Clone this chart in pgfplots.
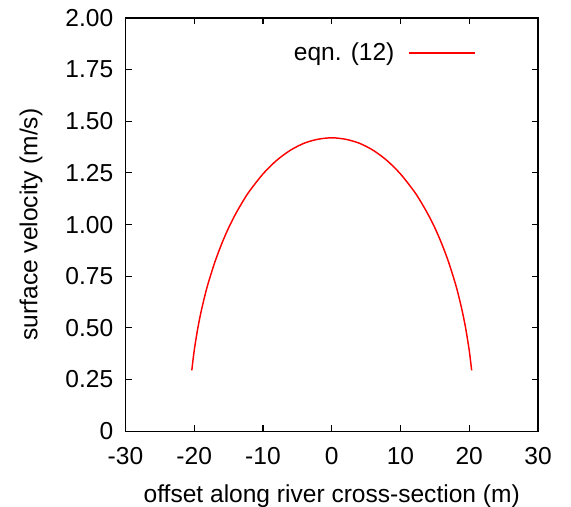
\documentclass[border=0pt]{standalone}
\usepackage{fontspec}
\setmainfont{Liberation Sans}
\usepackage{pgfplots}
\pgfplotsset{compat=1.18}

\begin{document}
\begin{tikzpicture}
\fontsize{13.5}{16}\selectfont
\begin{axis}[
    name=ax,
    scale only axis,
    width=226.9pt, height=227.2pt,
    xmin=-30, xmax=30,
    ymin=0, ymax=2,
    xtick={-30,-20,-10,0,10,20,30},
    xticklabels={-30,-20,-10,0,10,20,30},
    ytick={0,0.25,0.5,0.75,1,1.25,1.5,1.75,2},
    yticklabels={0,0.25,0.50,0.75,1.00,1.25,1.50,1.75,2.00},
    tick align=inside,
    major tick length=3.5pt,
    axis line style={line width=0.6pt},
    every tick/.style={black, line width=0.6pt},
    tick label style={font=\fontsize{13.5}{16}\selectfont},
    yticklabel style={xshift=-2pt},
    xticklabel style={yshift=-4.5pt},
    label style={font=\fontsize{13.5}{16}\selectfont},
    xlabel={offset along river cross-section (m)},
    ylabel={surface velocity (m/s)},
    xlabel style={yshift=-1.5pt},
    ylabel style={yshift=3.5pt},
    legend plot pos=right,
    legend style={draw=none, fill=none, at={(0.849,0.915)}, anchor=east, inner sep=0pt,
        font=\fontsize{13.5}{16}\selectfont},
    legend image code/.code={\path (0pt,0pt); \draw[#1] (5.7pt,0pt) -- (41.7pt,0pt);},
]
\addplot[red, line width=0.8pt, smooth] coordinates {
    (-20.35, 0.294) (-20, 0.390) (-19.5, 0.494) (-19, 0.578) (-18.5, 0.649)
    (-18, 0.712) (-17, 0.818) (-16, 0.907) (-15, 0.984) (-14, 1.050)
    (-13, 1.108) (-12, 1.160) (-10, 1.245) (-8, 1.311) (-6, 1.360)
    (-4, 1.394) (-2, 1.413) (0, 1.420) (2, 1.413) (4, 1.394)
    (6, 1.360) (8, 1.311) (10, 1.245) (12, 1.160) (13, 1.108)
    (14, 1.050) (15, 0.984) (16, 0.907) (17, 0.818) (18, 0.712)
    (18.5, 0.649) (19, 0.578) (19.5, 0.494) (20, 0.390) (20.35, 0.294)
};
\addlegendentry{eqn. (12)}
\end{axis}
\pgfresetboundingbox
\path ([shift={(-69pt,-41.25pt)}]ax.south west) rectangle ([shift={(18.15pt,9.9pt)}]ax.north east);
\end{tikzpicture}
\end{document}
